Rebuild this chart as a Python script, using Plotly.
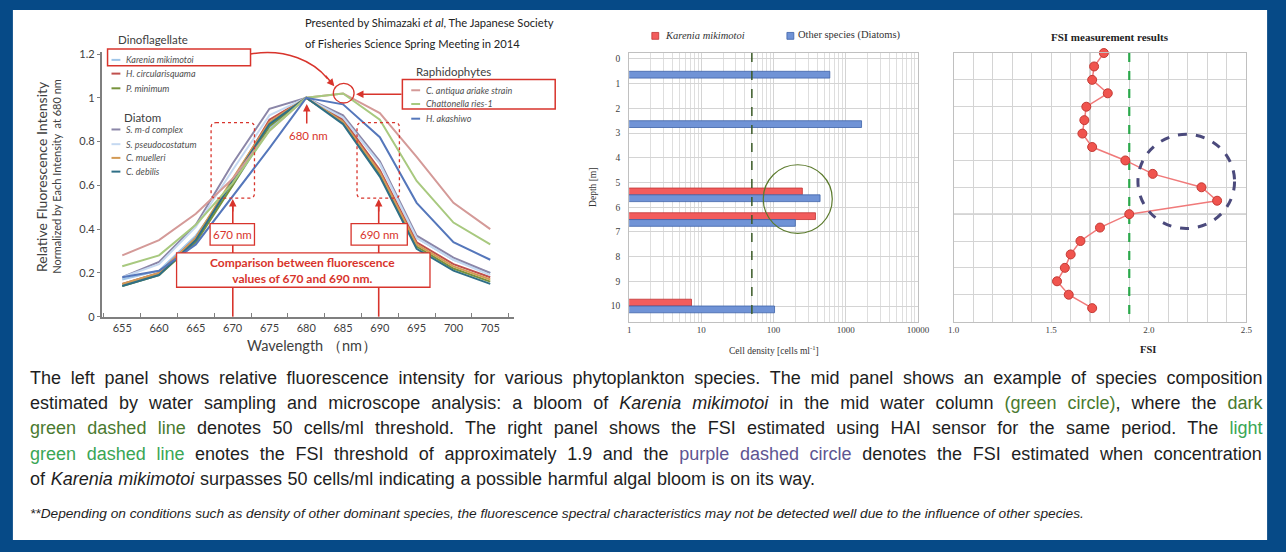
import plotly.graph_objects as go

W, H = 1286, 552


def px(x):
    return x / W


def py(y):
    return 1 - y / H


# ---------------- data ----------------
wavelength = [655, 660, 665, 670, 675, 680, 685, 690, 695, 700, 705]

karenia_mikimotoi = [0.17, 0.21, 0.37, 0.60, 0.86, 1.00, 0.91, 0.70, 0.36, 0.26, 0.20]
h_circularisquama = [0.15, 0.20, 0.36, 0.62, 0.90, 1.00, 0.90, 0.67, 0.34, 0.24, 0.18]
p_minimum = [0.14, 0.19, 0.34, 0.60, 0.87, 1.00, 0.89, 0.65, 0.32, 0.22, 0.16]
s_md_complex = [0.18, 0.25, 0.42, 0.70, 0.95, 1.00, 0.92, 0.71, 0.37, 0.27, 0.20]
s_pseudocostatum = [0.18, 0.24, 0.41, 0.67, 0.92, 1.00, 0.91, 0.70, 0.36, 0.26, 0.19]
c_muelleri = [0.15, 0.20, 0.36, 0.63, 0.89, 1.00, 0.89, 0.66, 0.33, 0.23, 0.17]
c_debilis = [0.14, 0.19, 0.35, 0.62, 0.88, 1.00, 0.88, 0.64, 0.31, 0.21, 0.15]
c_antiqua = [0.28, 0.35, 0.47, 0.63, 0.85, 1.00, 1.02, 0.93, 0.73, 0.52, 0.40]
chattonella = [0.23, 0.28, 0.42, 0.61, 0.85, 1.00, 1.02, 0.90, 0.62, 0.43, 0.33]
h_akashiwo = [0.18, 0.21, 0.33, 0.55, 0.77, 1.00, 0.97, 0.82, 0.52, 0.34, 0.26]

depth_bars = [0.5, 2.5, 5.5, 6.5, 10.0]
karenia_cells = [None, None, 250, 380, 7.3]
other_cells = [600, 1650, 440, 200, 103]
cell_threshold = 50

fsi_depth = [0, 0.5, 1.0, 1.5, 2.0, 2.5, 3.0, 3.5, 4.0, 4.5,
             5.0, 5.5, 6.0, 6.5, 7.0, 7.5, 8.0, 8.5, 9.0, 9.5]
fsi_values = [1.77, 1.72, 1.71, 1.79, 1.68, 1.67, 1.66, 1.71, 1.88, 2.02,
              2.27, 2.35, 1.90, 1.75, 1.65, 1.60, 1.57, 1.53, 1.59, 1.71]
fsi_threshold = 1.9

cell_ticks = [1, 10, 100, 1000, 10000]
cell_ticklabels = ["1", "10", "100", "1000", "10000"]
fsi_ticks = [1.0, 1.5, 2.0, 2.5]
fsi_ticklabels = ["1.0", "1.5", "2.0", "2.5"]

# ---------------- styles ----------------
curves = [
    ("Karenia mikimotoi", karenia_mikimotoi, "#9fc5e8"),
    ("H. circularisquama", h_circularisquama, "#c0504d"),
    ("P. minimum", p_minimum, "#77933c"),
    ("S. m-d complex", s_md_complex, "#8b86a8"),
    ("S. pseudocostatum", s_pseudocostatum, "#c5d9f1"),
    ("C. muelleri", c_muelleri, "#d39a55"),
    ("C. debilis", c_debilis, "#2f6f86"),
    ("C. antiqua ariake strain", c_antiqua, "#d49a98"),
    ("Chattonella ries-1", chattonella, "#a8c97f"),
    ("H. akashiwo", h_akashiwo, "#5577bb"),
]

RED = "#d8342c"
fig = go.Figure()

for name, vals, col in curves:
    fig.add_trace(go.Scatter(x=wavelength, y=vals, mode="lines", name=name,
                             line=dict(color=col, width=2), xaxis="x", yaxis="y",
                             showlegend=False))

# mid panel bars
fig.add_trace(go.Bar(y=depth_bars, x=karenia_cells, orientation="h", name="Karenia mikimotoi",
                     marker=dict(color="#f25c5c", line=dict(color="#c03535", width=0.8)),
                     xaxis="x2", yaxis="y2", showlegend=False))
fig.add_trace(go.Bar(y=depth_bars, x=other_cells, orientation="h", name="Other species (Diatoms)",
                     marker=dict(color="#7093d6", line=dict(color="#3d62a8", width=0.8)),
                     xaxis="x2", yaxis="y2", showlegend=False))
fig.add_trace(go.Scatter(x=[cell_threshold, cell_threshold], y=[-0.24, 10.63], mode="lines",
                         line=dict(color="#3a5a26", width=1.5, dash="dash"),
                         xaxis="x2", yaxis="y2", showlegend=False, hoverinfo="skip"))

# right panel
fig.add_trace(go.Scatter(x=[fsi_threshold, fsi_threshold], y=[0, 10], mode="lines",
                         line=dict(color="#2aa84a", width=2.2, dash="dash"),
                         xaxis="x3", yaxis="y3", showlegend=False, hoverinfo="skip"))
fig.add_trace(go.Scatter(x=fsi_values, y=fsi_depth, mode="lines+markers",
                         line=dict(color="#f07a7a", width=1.5),
                         marker=dict(size=9, color="#f0544e", line=dict(color="#c43a34", width=1)),
                         xaxis="x3", yaxis="y3", showlegend=False, cliponaxis=False))

shapes = []
ann = []

# white sheet on blue border
shapes.append(dict(type="rect", xref="paper", yref="paper", x0=px(7), x1=px(1279),
                   y0=py(546), y1=py(5), fillcolor="white", line=dict(width=0), layer="below"))


def rect(x0, y0, x1, y1, color=RED, width=1.5, fill=None, dash=None):
    d = dict(type="rect", xref="paper", yref="paper", x0=px(x0), x1=px(x1), y0=py(y1), y1=py(y0),
             line=dict(color=color, width=width), layer="above")
    if dash:
        d["line"]["dash"] = dash
    if fill:
        d["fillcolor"] = fill
    return d


def seg(x0, y0, x1, y1, color=RED, width=1.5):
    return dict(type="line", xref="paper", yref="paper", x0=px(x0), x1=px(x1), y0=py(y0), y1=py(y1),
                line=dict(color=color, width=width), layer="above")


def arrow(tx, ty, hx, hy, color=RED, width=1.5):
    return dict(x=px(hx), y=py(hy), xref="paper", yref="paper", ax=tx - hx, ay=ty - hy,
                text="", showarrow=True, arrowhead=2, arrowsize=1, arrowwidth=width,
                arrowcolor=color, standoff=0)


def txt(x, y, s, size=11, color="#404040", family="Lato", xanchor="left", yanchor="middle", **kw):
    return dict(x=px(x), y=py(y), xref="paper", yref="paper", text=s, showarrow=False,
                xanchor=xanchor, yanchor=yanchor, font=dict(size=size, color=color, family=family), **kw)


def P(x, y):
    return f"{px(x):.5f},{py(y):.5f}"


def rounded(x0, y0, x1, y1, r):
    return ("M " + P(x0 + r, y0) + " L " + P(x1 - r, y0) + " Q " + P(x1, y0) + " " + P(x1, y0 + r) +
            " L " + P(x1, y1 - r) + " Q " + P(x1, y1) + " " + P(x1 - r, y1) +
            " L " + P(x0 + r, y1) + " Q " + P(x0, y1) + " " + P(x0, y1 - r) +
            " L " + P(x0, y0 + r) + " Q " + P(x0, y0) + " " + P(x0 + r, y0) + " Z")


# legend (left panel)
ann.append(txt(112, 35, "Dinoflagellate", size=11.5))
ann.append(txt(118, 115, "Diatom", size=11.5))
ann.append(txt(414, 68, "Raphidophytes", size=11.5))
leg_pos = {
    "Karenia mikimotoi": (107, 56),
    "H. circularisquama": (107, 70),
    "P. minimum": (107, 85),
    "S. m-d complex": (107, 127),
    "S. pseudocostatum": (107, 142),
    "C. muelleri": (107, 156),
    "C. debilis": (107, 170),
    "C. antiqua ariake strain": (411, 87),
    "Chattonella ries-1": (411, 101),
    "H. akashiwo": (411, 116),
}
for name, vals, col in curves:
    lx, ly = leg_pos[name]
    shapes.append(seg(lx, ly, lx + 9, ly, color=col, width=2))
    ann.append(txt(lx + 13, ly, "<i>" + name + "</i>", size=9, color="#505050"))

shapes.append(rect(103, 45, 248, 62, width=1.5))
shapes.append(rect(402, 76, 557, 106, width=1.5))
shapes.append(dict(type="circle", xref="paper", yref="paper", x0=px(332), x1=px(353),
                   y0=py(100), y1=py(80), line=dict(color=RED, width=1.3), layer="above"))
shapes.append(dict(type="path", xref="paper", yref="paper",
                   path="M " + P(248, 50) + " C " + P(285, 44) + " " + P(312, 58) + " " + P(326, 75),
                   line=dict(color=RED, width=1.5), layer="above"))
ann.append(arrow(323, 71, 333, 83))
ann.append(arrow(402, 91, 355, 91))
ann.append(arrow(305, 122, 305, 101))
ann.append(txt(307, 133, "680 nm", size=11.5, color=RED, xanchor="center"))
for (x0, x1) in [(208, 252), (356, 399)]:
    shapes.append(dict(type="path", xref="paper", yref="paper", path=rounded(x0, 120, x1, 197, 5),
                       line=dict(color=RED, width=1.3, dash="dot"), layer="above"))
for xx in [230, 378]:
    shapes.append(seg(xx, 318, xx, 205, width=1.6))
    ann.append(arrow(xx, 212, xx, 198))
shapes.append(rect(207, 223, 252, 245, fill="white", width=1.3))
shapes.append(rect(350, 223, 407, 245, fill="white", width=1.3))
shapes.append(rect(173, 253, 430, 288, fill="white", width=1.3))
ann.append(txt(229.5, 234, "670 nm", size=11.5, color=RED, xanchor="center"))
ann.append(txt(378.5, 234, "690 nm", size=11.5, color=RED, xanchor="center"))
ann.append(txt(301, 270.5, "<b>Comparison between fluorescence<br>values of 670 and 690 nm.</b>",
               size=12, color=RED, xanchor="center"))

ann.append(txt(36, 175, "Relative Fluorescence Intensity", size=14, xanchor="center", textangle=-90))
ann.append(txt(51, 175, "Normalized by Each Intensity  at 680 nm", size=11, xanchor="center", textangle=-90))
ann.append(txt(310, 347, "Wavelength （nm）", size=14.5, xanchor="center"))

ann.append(txt(301, 18, "Presented by Shimazaki <i>et al</i>, The Japanese Society", size=11.2, color="#222222"))
ann.append(txt(301, 39, "of Fisheries Science Spring Meeting in 2014", size=11.2, color="#222222"))

# ---------- mid panel decorations ----------
SERIF = "Liberation Serif"
shapes.append(dict(type="rect", xref="paper", yref="paper", x0=px(655), x1=px(662), y0=py(35), y1=py(28),
                   fillcolor="#f25c5c", line=dict(color="#c03535", width=0.8)))
ann.append(txt(666, 31, "<i>Karenia mikimotoi</i>", size=10.5, color="#333333", family=SERIF))
shapes.append(dict(type="rect", xref="paper", yref="paper", x0=px(792), x1=px(799), y0=py(35), y1=py(28),
                   fillcolor="#7093d6", line=dict(color="#3d62a8", width=0.8)))
ann.append(txt(801, 31, "Other species (Diatoms)", size=10.5, color="#333333", family=SERIF))
ann.append(txt(596, 186, "Depth [m]", size=9.5, color="#333333", family=SERIF, xanchor="center",
               textangle=-90))
ann.append(txt(779, 352, "Cell density [cells ml<sup>-1</sup>]", size=9.5, color="#333333", family=SERIF,
               xanchor="center"))
shapes.append(dict(type="circle", xref="paper", yref="paper", x0=px(768), x1=px(838), y0=py(233), y1=py(163),
                   line=dict(color="#5b7a2c", width=1.2), layer="above"))

# ---------- right panel decorations ----------
ann.append(txt(1120, 33, "<b>FSI measurement results</b>", size=11, color="#222222", family=SERIF,
               xanchor="center"))
ann.append(txt(1158, 352, "<b>FSI</b>", size=10.5, color="#222222", family=SERIF, xanchor="center"))
shapes.append(dict(type="line", xref="x3", yref="y3", x0=1.7, x1=1.7, y0=0, y1=10,
                   line=dict(color="#b8b8b8", width=1.5), layer="below"))
shapes.append(dict(type="line", xref="x3", yref="y3", x0=1.0, x1=2.5, y0=6, y1=6,
                   line=dict(color="#b8b8b8", width=1.5), layer="below"))
shapes.append(dict(type="circle", xref="paper", yref="paper", x0=px(1148), x1=px(1246), y0=py(228), y1=py(132),
                   line=dict(color="#4b4a7c", width=3, dash="dash"), layer="above"))

# ---------- caption ----------
CAP = "Liberation Sans"
DG = "#4a7a30"
LG = "#3aa655"
PU = "#5e5592"
cap_lines = [
    "The left panel shows relative fluorescence intensity for various phytoplankton species. The mid panel shows an example of species composition",
    "estimated by water sampling and microscope analysis: a bloom of <i>Karenia mikimotoi</i> in the mid water column "
    f"<span style='color:{DG}'>(green circle)</span>, where the <span style='color:{DG}'>dark</span>",
    f"<span style='color:{DG}'>green dashed line</span> denotes 50 cells/ml threshold. The right panel shows the FSI estimated using HAI sensor for the same period. The <span style='color:{LG}'>light</span>",
    f"<span style='color:{LG}'>green dashed line</span> enotes the FSI threshold of approximately 1.9 and the <span style='color:{PU}'>purple dashed circle</span> denotes the FSI estimated when concentration",
    "of <i>Karenia mikimotoi</i> surpasses 50 cells/ml indicating a possible harmful algal bloom is on its way.",
]
cap_y = [381, 406, 432, 458, 484]
cap_wordspacing = [4.7, 6.0, 6.3, 5.65, 0.6]
for s, yy, ws in zip(cap_lines, cap_y, cap_wordspacing):
    ann.append(txt(22, yy, f"<span style='word-spacing:{ws}px'>{s}</span>", size=18,
                   color="#1e1e1e", family=CAP))
ann.append(txt(22, 519, "<i>**Depending on conditions such as density of other dominant species, the fluorescence "
               "spectral characteristics may not be detected well due to the influence of other species.</i>",
               size=13.7, color="#1e1e1e", family=CAP))

axis_font = dict(family="Lato", size=11, color="#404040")
serif_tick = dict(family=SERIF, size=9, color="#404040")

fig.update_layout(
    width=W, height=H, margin=dict(l=0, r=0, t=0, b=0),
    paper_bgcolor="#064a87", plot_bgcolor="rgba(0,0,0,0)",
    barmode="group", bargap=0.45, bargroupgap=0,
    showlegend=False,
    shapes=shapes, annotations=ann,
    xaxis=dict(domain=[px(97), px(515)], range=[652.2, 708.2], tickvals=wavelength,
               showgrid=False, zeroline=False, showline=True, linecolor="#7f7f7f", linewidth=1.5,
               ticks="", tickfont=axis_font, anchor="y",
               minor=dict(ticks="inside", tick0=652.5, dtick=5, ticklen=4, tickcolor="#7f7f7f")),
    yaxis=dict(domain=[py(318), py(47.8)], range=[0, 1.21], tickvals=[0, 0.2, 0.4, 0.6, 0.8, 1.0, 1.2],
               showgrid=False, zeroline=False, showline=True, linecolor="#7f7f7f", linewidth=1.5,
               ticks="outside", ticklen=3, tickcolor="#7f7f7f", tickfont=axis_font, anchor="x"),
    xaxis2=dict(domain=[px(632), px(925)], type="log", range=[0, 4], tickvals=cell_ticks,
                ticktext=cell_ticklabels, tickfont=serif_tick, showgrid=True, gridcolor="#d4d4d4",
                minor=dict(showgrid=True, gridcolor="#dedede", dtick="D1", ticks=""),
                showline=True, mirror=True, linecolor="#c0c0c0", zeroline=False, anchor="y2", ticks=""),
    yaxis2=dict(domain=[py(323), py(49)], range=[10.63, -0.24], tickvals=list(range(11)),
                tickfont=dict(family=SERIF, size=9.5, color="#404040"), showgrid=True, gridcolor="#d4d4d4",
                showline=True, mirror=True, linecolor="#c0c0c0", zeroline=False, anchor="x2", ticks="",
                ticklabelstandoff=6),
    xaxis3=dict(domain=[px(961), px(1258)], range=[1.0, 2.5], tickvals=fsi_ticks, ticktext=fsi_ticklabels,
                tickfont=serif_tick, showgrid=True, gridcolor="#d4d4d4",
                minor=dict(showgrid=True, gridcolor="#d4d4d4", dtick=0.1, ticks=""),
                showline=True, mirror=True, linecolor="#c0c0c0", zeroline=False, anchor="y3", ticks=""),
    yaxis3=dict(domain=[py(323), py(49)], range=[10, 0], dtick=1, showticklabels=False,
                showgrid=True, gridcolor="#d4d4d4", showline=True, mirror=True, linecolor="#c0c0c0",
                zeroline=False, anchor="x3", ticks=""),
)

fig.write_html("out.html", config={"displayModeBar": False},
               post_script="document.body.style.margin='0px';")
